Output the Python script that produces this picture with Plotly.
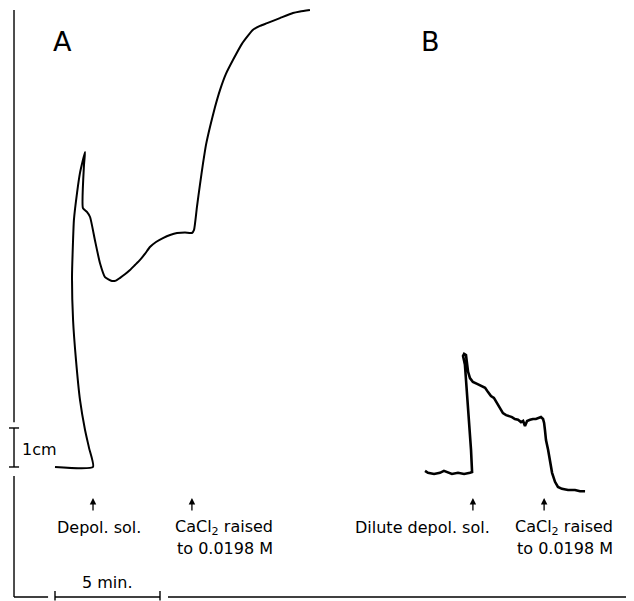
import plotly.graph_objects as go

# Trace A: time (min) and tension (cm of pen deflection)
a_time = [0.00, 1.81, 1.62, 1.43, 1.19, 1.00, 0.86, 0.81, 0.86, 0.90, 1.05, 1.19, 1.33, 1.43,
          1.38, 1.33, 1.52, 1.67, 1.90, 2.14, 2.38, 2.71, 2.90, 3.10, 3.33, 3.57, 3.81, 4.05,
          4.29, 4.52, 4.81, 5.14, 5.48, 5.81, 6.19, 6.52, 6.62, 6.76, 6.90, 7.05, 7.19, 7.38,
          7.62, 7.86, 8.14, 8.48, 8.90, 9.43, 9.76, 10.10, 10.71, 11.33, 11.67, 12.14]
a_tension = [0.00, 0.00, 0.49, 0.95, 1.72, 2.74, 3.77, 4.87, 5.82, 6.33, 7.03, 7.54, 7.87, 8.08,
             7.74, 6.64, 6.54, 6.41, 5.82, 5.23, 4.87, 4.77, 4.78, 4.85, 4.94, 5.05, 5.18, 5.31,
             5.47, 5.64, 5.77, 5.87, 5.95, 6.00, 6.01, 6.00, 6.08, 6.67, 7.23, 7.79, 8.26, 8.72,
             9.23, 9.67, 10.08, 10.44, 10.85, 11.21, 11.31, 11.38, 11.51, 11.64, 11.68, 11.72]

# Trace B
b_time = [17.62, 17.76, 18.05, 18.33, 18.52, 18.71, 18.90, 19.19, 19.48, 19.76, 19.86,
          19.81, 19.71, 19.62, 19.52, 19.43, 19.48, 19.57, 19.62, 19.67, 19.76, 19.90,
          20.10, 20.29, 20.48, 20.62, 20.76, 20.90, 21.05, 21.19, 21.33, 21.48, 21.62,
          21.76, 21.90, 22.05, 22.19, 22.29, 22.38, 22.48, 22.62, 22.76, 22.90, 23.05,
          23.14, 23.24, 23.29, 23.33, 23.38, 23.48, 23.57, 23.67, 23.81, 23.95, 24.14,
          24.43, 24.76, 25.00, 25.24]
b_tension = [-0.10, -0.15, -0.18, -0.15, -0.10, -0.13, -0.18, -0.15, -0.18, -0.15, -0.13,
             0.44, 1.21, 1.97, 2.62, 2.85, 2.90, 2.87, 2.69, 2.44, 2.28, 2.18,
             2.13, 2.08, 2.03, 1.92, 1.82, 1.77, 1.64, 1.51, 1.38, 1.33, 1.31,
             1.28, 1.23, 1.21, 1.15, 1.18, 1.05, 1.18, 1.21, 1.23, 1.23, 1.26,
             1.28, 1.23, 1.13, 0.95, 0.69, 0.44, 0.13, -0.15, -0.38, -0.51, -0.56,
             -0.59, -0.59, -0.62, -0.62]

# Event markers (min)
a_events = [1.81, 6.52]
b_events = [19.90, 23.29]
panel_labels = ["A", "B"]
a_event_labels = ["Depol. sol.", "CaCl<sub>2</sub> raised", "to 0.0198 M"]
b_event_labels = ["Dilute depol. sol.", "CaCl<sub>2</sub> raised", "to 0.0198 M"]

# Calibration bars
time_bar = [0, 5]      # min
tension_bar = [0, 1]   # cm

FONT = dict(family="DejaVu Sans", size=16, color="black")
# page body has an 8px margin, so the figure covers the window from (8, 8)
X0, X1 = -2.238, 27.571
Y0, Y1 = -3.436, 11.769
frame_x = -1.952
frame_y = -3.333

fig = go.Figure()
fig.add_trace(go.Scatter(x=a_time, y=a_tension, mode="lines",
                         line=dict(color="black", width=2, shape="spline", smoothing=0.5),
                         showlegend=False, hoverinfo="skip"))
fig.add_trace(go.Scatter(x=b_time, y=b_tension, mode="lines",
                         line=dict(color="black", width=2.6),
                         showlegend=False, hoverinfo="skip"))

lw = 1.4
shapes = []
def seg(x0, y0, x1, y1, w=lw):
    shapes.append(dict(type="line", x0=x0, y0=y0, x1=x1, y1=y1, xref="x", yref="y",
                       line=dict(color="black", width=w)))

# left frame with gap for the 1 cm bar
seg(frame_x, 11.72, frame_x, 1.15)
seg(frame_x, -0.23, frame_x, frame_y)
# 1 cm bar
seg(frame_x, tension_bar[0], frame_x, tension_bar[1])
seg(frame_x - 0.24, tension_bar[0], frame_x + 0.24, tension_bar[0])
seg(frame_x - 0.24, tension_bar[1], frame_x + 0.24, tension_bar[1])
# bottom frame with 5 min bar
seg(frame_x, frame_y, -0.33, frame_y)
seg(time_bar[0], frame_y, time_bar[1], frame_y)
seg(time_bar[0], -3.18, time_bar[0], -3.42)
seg(time_bar[1], -3.18, time_bar[1], -3.42)
seg(5.38, frame_y, X1 + 1, frame_y)

anns = []
for lbl, xx in zip(panel_labels, [0.38, 17.86]):
    anns.append(dict(x=xx, y=10.9, text=lbl, showarrow=False,
                     font=dict(family="DejaVu Sans ExtraLight, DejaVu Sans", size=27, color="black")))
for ev in a_events + b_events:
    anns.append(dict(x=ev, y=-0.795, ax=0, ay=14, text="", showarrow=True,
                     arrowhead=2, arrowsize=1, arrowwidth=1.3, arrowcolor="black"))
row1, row2 = -1.56, -2.10
anns.append(dict(x=0.0, y=row1, text=a_event_labels[0], xanchor="left", showarrow=False, font=FONT))
anns.append(dict(x=5.62, y=row1, text=a_event_labels[1], xanchor="left", showarrow=False, font=FONT))
anns.append(dict(x=5.71, y=row2, text=a_event_labels[2], xanchor="left", showarrow=False, font=FONT))
anns.append(dict(x=14.19, y=row1, text=b_event_labels[0], xanchor="left", showarrow=False, font=FONT))
anns.append(dict(x=21.81, y=row1, text=b_event_labels[1], xanchor="left", showarrow=False, font=FONT))
anns.append(dict(x=21.90, y=row2, text=b_event_labels[2], xanchor="left", showarrow=False, font=FONT))
anns.append(dict(x=-1.667, y=0.46, text="1cm", xanchor="left", showarrow=False, font=FONT))
anns.append(dict(x=2.476, y=-2.97, text="5 min.", showarrow=False, font=FONT))

fig.update_layout(
    width=626, height=593,
    margin=dict(l=0, r=0, t=0, b=0, pad=0),
    paper_bgcolor="white", plot_bgcolor="white",
    xaxis=dict(range=[X0, X1], visible=False, fixedrange=True),
    yaxis=dict(range=[Y0, Y1], visible=False, fixedrange=True),
    shapes=shapes, annotations=anns,
)
fig.write_html("out.html")
